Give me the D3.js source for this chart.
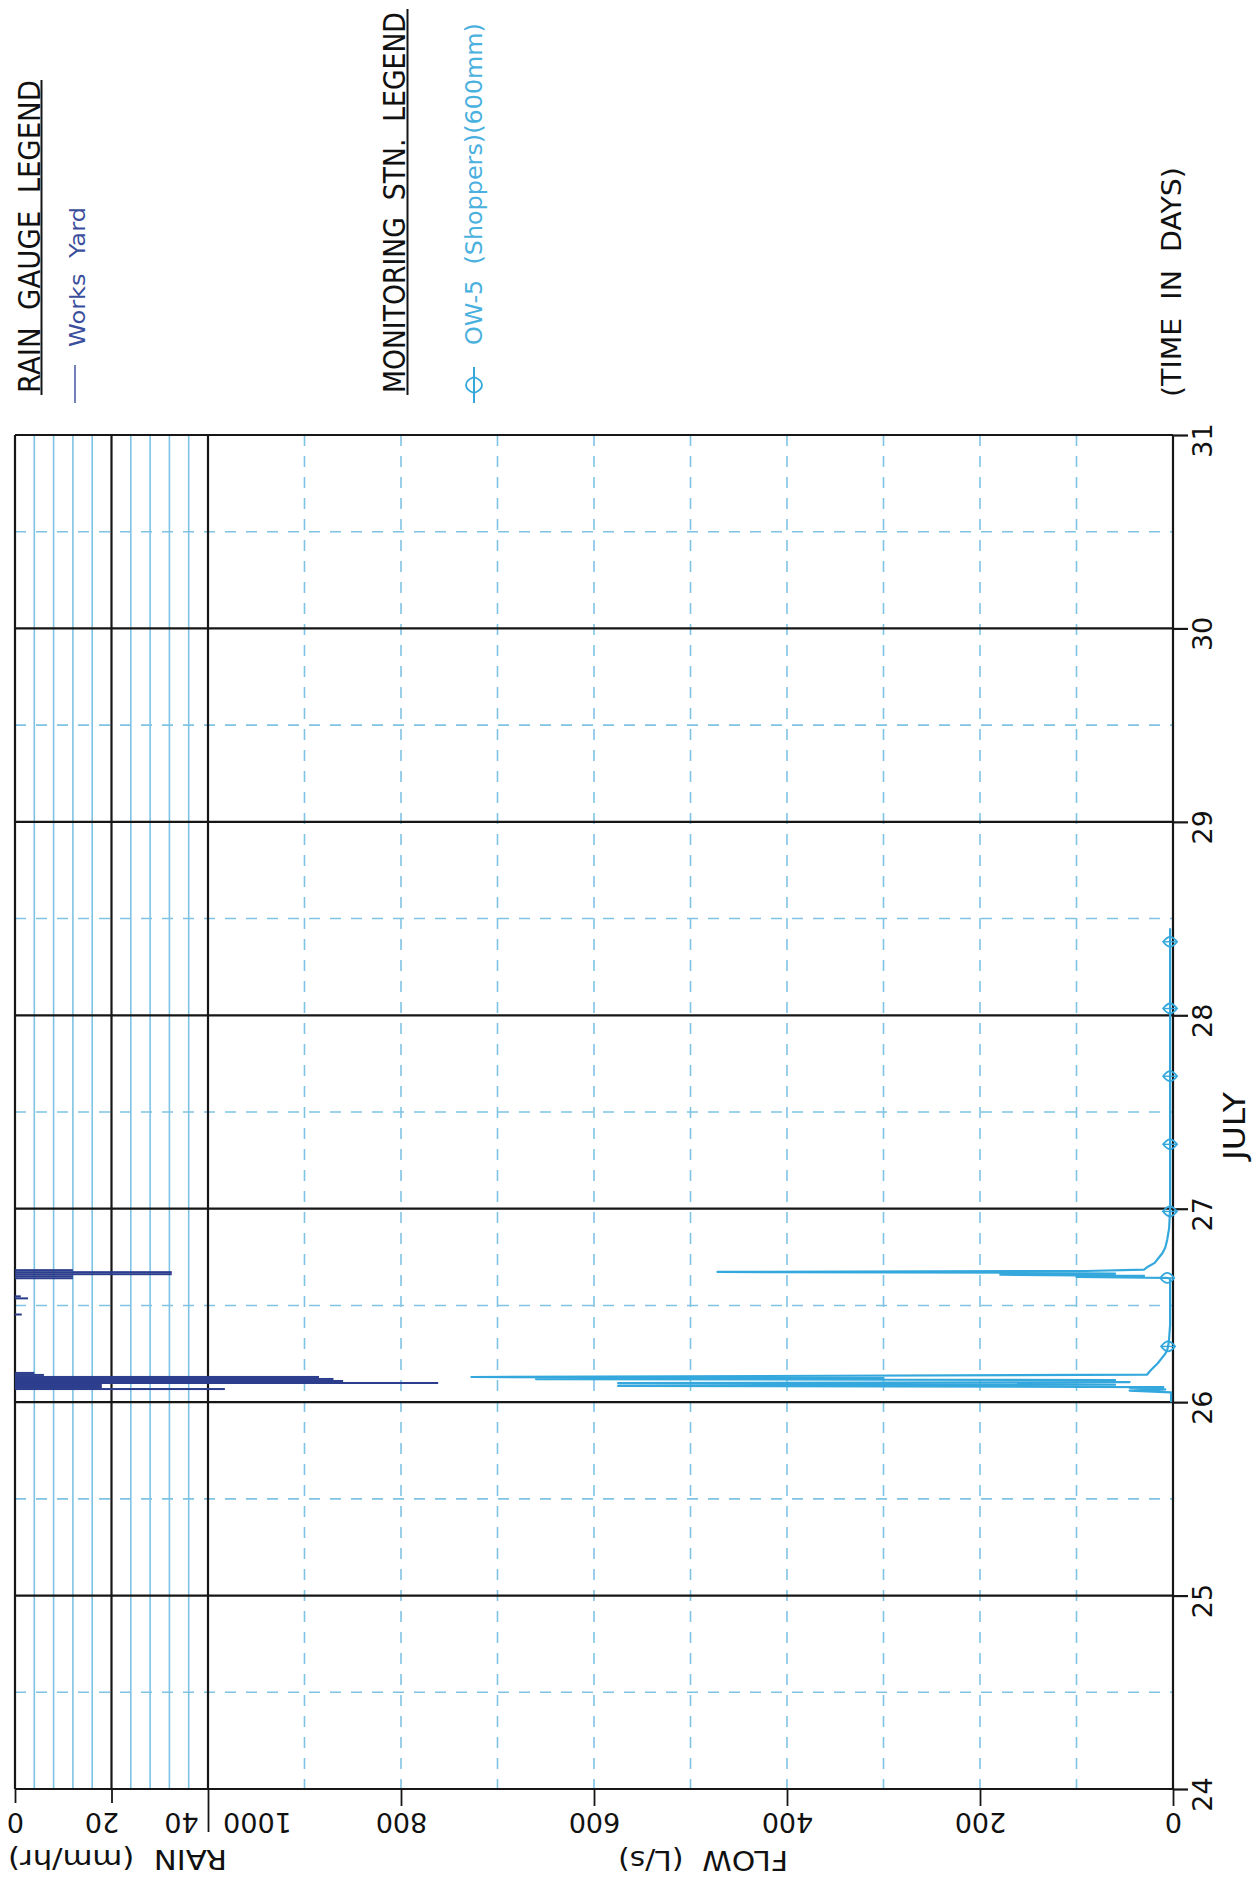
<!DOCTYPE html>
<html><head><meta charset="utf-8">
<script src="https://cdn.jsdelivr.net/npm/d3@7"></script>
<style>body{margin:0;background:#fff} text{white-space:pre}</style>
</head><body>
<svg id="c" width="1258" height="1892" xmlns="http://www.w3.org/2000/svg"></svg>
<script>
// ---------- data ----------
const days = [24,25,26,27,28,29,30,31];
const halfDays = [24.5,25.5,26.5,27.5,28.5,29.5,30.5];
const flowTicks = [0,200,400,600,800,1000];
const flowGrid = [100,200,300,400,500,600,700,800,900];
const rainTicks = [0,20,40];
const rainGrid = [4,8,12,16,24,28,32,36];

// Works Yard rain gauge, 15-minute bins (bin start, day of July) and intensity (mm/hr)
const rainTimes  = [26.4479, 26.5313, 26.5417,
                    26.0625, 26.0729, 26.0833, 26.0938, 26.1042, 26.1146, 26.1250, 26.1354, 26.1458,
                    26.6354, 26.6458, 26.6563, 26.6667, 26.6771];
const rainValues = [1.4, 2.7, 1.2,
                    43.5, 18, 18, 87.7, 68, 66, 63, 6, 4,
                    12, 12, 32.5, 32.5, 12];

// OW-5 (Shoppers)(600mm) flow, L/s
const flowTimes  = [26.000, 26.050, 26.060, 26.066, 26.074, 26.078, 26.084, 26.090, 26.098, 26.104,
                    26.110, 26.114, 26.119, 26.124, 26.130, 26.142, 26.160, 26.180, 26.200, 26.225,
                    26.250, 26.270, 26.290, 26.330, 26.400, 26.500, 26.600, 26.638, 26.642, 26.648,
                    26.653, 26.659, 26.664, 26.669, 26.673, 26.678, 26.685, 26.700, 26.720, 26.745,
                    26.770, 26.800, 26.840, 26.900, 27.000, 27.300, 27.700, 28.000, 28.300, 28.450];
const flowValues = [2, 2, 45, 8, 45, 10, 575, 60, 575, 45,
                    128, 60, 660, 300, 727, 27, 24, 20, 16, 12,
                    8, 6, 5, 4, 3, 3, 3, 3, 6, 100,
                    30, 179, 60, 150, 472, 90, 30, 26, 19, 15,
                    11, 8, 6, 4, 3, 3, 3, 3, 3, 3];
const markerTimes = [26.288, 26.642, 26.986, 27.333, 27.685, 28.035, 28.380];

// ---------- setup ----------
const svg = d3.select("#c");
svg.append("rect").attr("width",1258).attr("height",1892).attr("fill","#fff");
const yT = d3.scaleLinear().domain([24,31]).range([1789,435]);
const xRain = d3.scaleLinear().domain([0,40]).range([15,208]);
const xFlow = d3.scaleLinear().domain([0,1000]).range([1173,208]);

const BLUE_GRID = "#7fc3e4", BLACK = "#161616", FLOW_C = "#34a8dc", RAIN_C = "#2b3d8c";
const FONT = "'DejaVu Sans', sans-serif";

// ---------- grids ----------
const grid = svg.append("g");
grid.selectAll(".rg").data(rainGrid).join("line")
  .attr("x1", d=>xRain(d)).attr("x2", d=>xRain(d)).attr("y1", yT(31)).attr("y2", yT(24))
  .attr("stroke", BLUE_GRID).attr("stroke-width", 1.6);
grid.selectAll(".fg").data(flowGrid).join("line")
  .attr("x1", d=>xFlow(d)).attr("x2", d=>xFlow(d)).attr("y1", yT(31)).attr("y2", yT(24))
  .attr("stroke", BLUE_GRID).attr("stroke-width", 1.6).attr("stroke-dasharray","11,10");
grid.selectAll(".hg").data(halfDays).join("line")
  .attr("x1", xRain(0)).attr("x2", xFlow(0)).attr("y1", d=>yT(d)).attr("y2", d=>yT(d))
  .attr("stroke", BLUE_GRID).attr("stroke-width", 1.6).attr("stroke-dasharray","11,10");

// black frame lines
const frame = svg.append("g");
frame.selectAll(".dl").data(days).join("line")
  .attr("x1", xRain(0)).attr("x2", xFlow(0)).attr("y1", d=>yT(d)).attr("y2", d=>yT(d))
  .attr("stroke", BLACK).attr("stroke-width", 2.2);
frame.selectAll(".vl").data([xRain(0), xRain(20), xRain(40), xFlow(0)]).join("line")
  .attr("x1", d=>d).attr("x2", d=>d).attr("y1", yT(31)).attr("y2", yT(24))
  .attr("stroke", BLACK).attr("stroke-width", 2.2);

// ---------- axes ----------
const gF = svg.append("g").attr("transform", `translate(0,${yT(24)})`)
  .call(d3.axisBottom(xFlow).tickValues(flowTicks).tickSize(16).tickFormat(d3.format("d")));
gF.select(".domain").remove();
gF.selectAll(".tick line").attr("stroke", BLACK).attr("stroke-width", 1.8)
  .attr("y2", d => d===1000 ? 43 : 17);
gF.selectAll(".tick text")
  .attr("x", d => d===1000 ? 49 : 0).attr("y", 24).attr("dy", null)
  .attr("transform", d => `rotate(180,${d===1000?49:0},24)`)
  .attr("fill", "#111").style("font-family", FONT).style("font-size", "27px");

const rainOff = {0:0, 20:-10, 40:-27};
const gR = svg.append("g").attr("transform", `translate(0,${yT(24)})`)
  .call(d3.axisBottom(xRain).tickValues(rainTicks).tickSize(14).tickFormat(d3.format("d")));
gR.select(".domain").remove();
gR.selectAll(".tick line").attr("stroke", BLACK).attr("stroke-width", 1.8)
  .attr("y2", d => d===40 ? 0 : 14);
gR.selectAll(".tick text")
  .attr("x", d => rainOff[d]).attr("y", 24).attr("dy", null)
  .attr("transform", d => `rotate(180,${rainOff[d]},24)`)
  .attr("fill", "#111").style("font-family", FONT).style("font-size", "27px");

const gT = svg.append("g").attr("transform", `translate(${xFlow(0)},0)`)
  .call(d3.axisRight(yT).tickValues(days).tickSize(15).tickFormat(d3.format("d")));
gT.select(".domain").remove();
gT.selectAll(".tick line").attr("stroke", BLACK).attr("stroke-width", 2.2);
gT.selectAll(".tick text")
  .attr("x", 39).attr("y", 5).attr("dy", null).attr("text-anchor", "middle")
  .attr("transform", "rotate(-90,39,5)")
  .attr("fill", "#111").style("font-family", FONT).style("font-size", "27px");

// ---------- rain bars ----------
const bin = 15/1440;
svg.append("g").selectAll("rect").data(rainTimes.map((t,i)=>({t, v: rainValues[i]}))).join("rect")
  .attr("x", xRain(0))
  .attr("y", d => yT(d.t + bin))
  .attr("width", d => xRain(d.v) - xRain(0))
  .attr("height", d => yT(d.t) - yT(d.t + bin))
  .attr("fill", RAIN_C);

// ---------- flow line ----------
const flowData = flowTimes.map((t,i)=>({t, v: flowValues[i]}));
svg.append("path").datum(flowData)
  .attr("fill","none").attr("stroke", FLOW_C).attr("stroke-width", 2.2).attr("stroke-linejoin","round")
  .attr("d", d3.line().x(d=>xFlow(d.v)).y(d=>yT(d.t)));

const interpFlow = t => {
  const i = d3.bisector(d=>d.t).left(flowData, t);
  if (i <= 0) return flowData[0].v;
  if (i >= flowData.length) return flowData[flowData.length-1].v;
  const a = flowData[i-1], b = flowData[i];
  return a.v + (b.v - a.v) * (t - a.t) / (b.t - a.t);
};
const markerPath = "M-7,0 Q-3,-5 0,-5 Q3,-5 7,0 Q3,5 0,5 Q-3,5 -7,0 Z";
const mk = svg.append("g").selectAll("g").data(markerTimes).join("g")
  .attr("transform", t => `translate(${xFlow(interpFlow(t))},${yT(t)})`);
mk.append("path").attr("d", markerPath).attr("fill","none").attr("stroke", FLOW_C).attr("stroke-width", 1.8);
mk.append("line").attr("x1",-7).attr("x2",7).attr("stroke", FLOW_C).attr("stroke-width", 1.4);

// ---------- texts (scaled to the measured lengths with a transform) ----------
function vtext(str, bx, by, size, len, color) {
  const t = svg.append("text").text(str)
    .attr("x", 0).attr("y", 0).attr("text-anchor", "start")
    .attr("fill", color).style("font-family", FONT).style("font-size", size + "px");
  const nat = t.node().getComputedTextLength();
  t.attr("transform", `translate(${bx},${by}) rotate(-90) scale(${len/nat},1)`);
}
function utext(str, cx, by, size, len) {
  const t = svg.append("text").text(str)
    .attr("x", 0).attr("y", 0).attr("text-anchor", "middle")
    .attr("fill", "#111").style("font-family", FONT).style("font-size", size + "px");
  const nat = t.node().getComputedTextLength();
  t.attr("transform", `translate(${cx},${by}) rotate(180) scale(${len/nat},1)`);
}

vtext("RAIN  GAUGE  LEGEND", 39.5, 393, 31, 313, "#111");
svg.append("line").attr("x1",41.5).attr("x2",41.5).attr("y1",80).attr("y2",395).attr("stroke",BLACK).attr("stroke-width",2);
vtext("Works  Yard", 85, 347, 22, 140, "#3b4e9c");
svg.append("line").attr("x1",75).attr("x2",75).attr("y1",365).attr("y2",403).attr("stroke","#7382b8").attr("stroke-width",2);

vtext("MONITORING  STN.  LEGEND", 405, 393, 31, 381, "#111");
svg.append("line").attr("x1",407.5).attr("x2",407.5).attr("y1",9).attr("y2",395).attr("stroke",BLACK).attr("stroke-width",2);
vtext("OW-5  (Shoppers)(600mm)", 482, 345, 23, 322, "#4ab0de");
svg.append("line").attr("x1",474).attr("x2",474).attr("y1",367).attr("y2",403).attr("stroke",FLOW_C).attr("stroke-width",2);
svg.append("path").attr("d","M474,377 Q466,380 466,385 Q466,390 474,393 Q482,390 482,385 Q482,380 474,377 Z")
  .attr("fill","none").attr("stroke",FLOW_C).attr("stroke-width",1.8);

vtext("(TIME  IN  DAYS)", 1181, 397, 26, 230, "#111");
vtext("JULY", 1245, 1160, 30, 68, "#111");

utext("RAIN  (mm/hr)", 117.5, 1850, 27, 219);
utext("FLOW  (L/s)", 703, 1851, 27, 170);
</script>
</body></html>
